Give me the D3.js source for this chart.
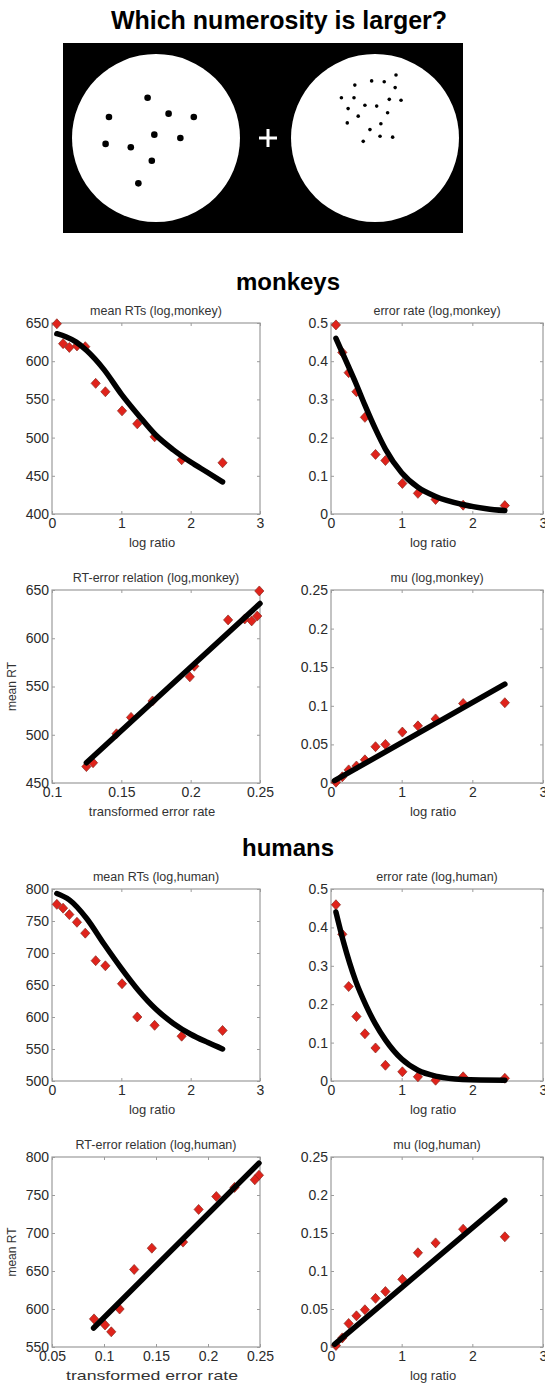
<!DOCTYPE html>
<html>
<head>
<meta charset="utf-8">
<script src="https://cdn.jsdelivr.net/npm/d3@7"></script>
<style>
  body { margin: 0; background: #fff; }
  svg text { font-family: "Liberation Sans", Arial, Helvetica, sans-serif; }
</style>
</head>
<body>
<script>
(function() {

    const width = 545;
    const height = 1383;

    // ---- data ----
    // log ratio of the two numerosities (same for every log-ratio panel)
    const logRatio = [0.07, 0.16, 0.25, 0.36, 0.48, 0.63, 0.77, 1.01, 1.23, 1.48, 1.87, 2.46];

    // monkeys
    const monkeyRT  = [649, 623, 618, 620, 619, 571, 560, 535, 518, 501, 471, 467];
    const monkeyErr = [0.495, 0.423, 0.37, 0.32, 0.253, 0.156, 0.14, 0.08, 0.054, 0.038, 0.023, 0.022];
    const monkeyTE  = [0.2495, 0.248, 0.244, 0.239, 0.227, 0.2026, 0.1994, 0.1725, 0.157, 0.1465, 0.1296, 0.1248];
    const monkeyMu  = [0.001, 0.008, 0.017, 0.022, 0.030, 0.047, 0.050, 0.066, 0.074, 0.083, 0.103, 0.104];

    const monkeyRTFitX  = [0.07, 0.2, 0.35, 0.5, 0.75, 1.0, 1.25, 1.5, 1.75, 2.0, 2.25, 2.46];
    const monkeyRTFitY  = [636, 632, 625, 614, 589, 557, 529, 503, 484, 468, 454, 442];
    const monkeyErrFitX = [0.07, 0.25, 0.35, 0.48, 0.63, 0.77, 1.0, 1.23, 1.48, 1.86, 2.2, 2.46];
    const monkeyErrFitY = [0.46, 0.385, 0.343, 0.285, 0.222, 0.17, 0.108, 0.07, 0.046, 0.025, 0.014, 0.009];
    const monkeyTEFitX  = [0.1248, 0.25];
    const monkeyTEFitY  = [471, 636];
    const monkeyMuFitX  = [0.05, 2.46];
    const monkeyMuFitY  = [0.003, 0.128];

    // humans
    const humanRT  = [776, 770, 760, 748, 731, 688, 680, 652, 600, 587, 570, 579];
    const humanErr = [0.459, 0.382, 0.246, 0.168, 0.123, 0.086, 0.041, 0.024, 0.011, 0.002, 0.011, 0.007];
    const humanTE  = [0.249, 0.245, 0.2255, 0.208, 0.191, 0.176, 0.146, 0.129, 0.115, 0.0904, 0.107, 0.101];
    const humanMu  = [0.002, 0.012, 0.031, 0.041, 0.049, 0.064, 0.073, 0.089, 0.124, 0.137, 0.155, 0.145];

    const humanRTFitX  = [0.07, 0.25, 0.5, 0.75, 1.0, 1.25, 1.5, 1.75, 2.0, 2.25, 2.46];
    const humanRTFitY  = [793, 783, 754, 714, 676, 641, 612, 590, 573, 560, 550];
    const humanErrFitX = [0.07, 0.18, 0.35, 0.5, 0.63, 0.77, 1.0, 1.23, 1.5, 1.86, 2.46];
    const humanErrFitY = [0.44, 0.36, 0.26, 0.195, 0.148, 0.107, 0.057, 0.028, 0.012, 0.004, 0.002];
    const humanTEFitX  = [0.09, 0.249];
    const humanTEFitY  = [575, 792];
    const humanMuFitX  = [0.05, 2.46];
    const humanMuFitY  = [0.0035, 0.193];

    // tick values
    const ratioTicks      = [0, 1, 2, 3];
    const monkeyRTTicks   = [400, 450, 500, 550, 600, 650];
    const humanRTTicks    = [500, 550, 600, 650, 700, 750, 800];
    const errTicks        = [0, 0.1, 0.2, 0.3, 0.4, 0.5];
    const muTicks         = [0, 0.05, 0.1, 0.15, 0.2, 0.25];
    const monkeyTETicks   = [0.1, 0.15, 0.2, 0.25];
    const monkeyTERTTicks = [450, 500, 550, 600, 650];
    const humanTETicks    = [0.05, 0.1, 0.15, 0.2, 0.25];
    const humanTERTTicks  = [550, 600, 650, 700, 750, 800];

    // stimulus dots, in units of the disc radius (centre = 0,0)
    const fewDotsX  = [-0.10, -0.56, 0.15, 0.45, -0.02, 0.29, -0.60, -0.30, -0.05, -0.21];
    const fewDotsY  = [-0.48, -0.25, -0.29, -0.25, -0.04, 0.00, 0.07, 0.11, 0.27, 0.54];
    const manyDotsX = [0.25, -0.04, 0.11, -0.24, 0.24, -0.40, -0.25, 0.17, 0.31, -0.12,
                       0.02, -0.32, 0.15, -0.20, -0.33, 0.07, -0.06, 0.06, 0.21, -0.14];
    const manyDotsY = [-0.75, -0.68, -0.67, -0.63, -0.60, -0.48, -0.48, -0.46, -0.45, -0.39,
                       -0.38, -0.35, -0.30, -0.26, -0.18, -0.17, -0.10, -0.02, -0.01, 0.04];

    const svg = d3.select("body").append("svg")
        .attr("width", width)
        .attr("height", height);

    svg.append("rect").attr("width", width).attr("height", height).attr("fill", "#fff");

    // ---- title + stimulus picture ----
    svg.append("text")
        .attr("x", 279).attr("y", 29)
        .attr("text-anchor", "middle")
        .style("font-size", "25px").style("font-weight", "bold")
        .text("Which numerosity is larger?");

    svg.append("rect")
        .attr("x", 63).attr("y", 43)
        .attr("width", 400).attr("height", 190)
        .attr("fill", "#000");

    function drawDisc(cx, cy, r, xs, ys, dotR) {
        let sx = d3.scaleLinear().domain([-1, 1]).range([cx - r, cx + r]);
        let sy = d3.scaleLinear().domain([-1, 1]).range([cy - r, cy + r]);
        svg.append("circle").attr("cx", cx).attr("cy", cy).attr("r", r).attr("fill", "#fff");
        svg.append("g").selectAll("circle")
            .data(xs)
            .enter()
            .append("circle")
            .attr("cx", d => sx(d))
            .attr("cy", (d, i) => sy(ys[i]))
            .attr("r", dotR)
            .attr("fill", "#000");
    }
    drawDisc(156, 138, 84, fewDotsX, fewDotsY, 3.3);
    drawDisc(375, 138, 84, manyDotsX, manyDotsY, 1.8);

    // fixation cross
    svg.append("path")
        .attr("d", "M259,138H277M268,129V147")
        .attr("stroke", "#fff").attr("stroke-width", 3);

    // ---- group headings ----
    svg.append("text").attr("x", 288).attr("y", 290)
        .attr("text-anchor", "middle")
        .style("font-size", "24px").style("font-weight", "bold")
        .text("monkeys");
    svg.append("text").attr("x", 288).attr("y", 856)
        .attr("text-anchor", "middle")
        .style("font-size", "24px").style("font-weight", "bold")
        .text("humans");

    const fmt = d3.format("~g");

    function diamond(x, y) {
        return "M" + x + "," + (y - 5) + "L" + (x + 4.6) + "," + y +
               "L" + x + "," + (y + 5) + "L" + (x - 4.6) + "," + y + "Z";
    }

    function drawPanel(p) {
        let x = d3.scaleLinear().domain(p.xDomain).range([p.left, p.right]);
        let y = d3.scaleLinear().domain(p.yDomain).range([p.bottom, p.top]);
        let g = svg.append("g");

        g.append("rect")
            .attr("x", p.left).attr("y", p.top)
            .attr("width", p.right - p.left).attr("height", p.bottom - p.top)
            .attr("fill", "#fff")
            .attr("stroke", "#9c9c9c").attr("stroke-width", 1.2);

        // inward ticks on all four sides, labels on bottom and left only
        g.append("g")
            .attr("transform", "translate(0," + p.bottom + ")")
            .call(d3.axisBottom(x).tickValues(p.xTicks).tickSizeInner(-3).tickSizeOuter(0)
                .tickPadding(4).tickFormat(fmt));
        g.append("g")
            .attr("transform", "translate(" + p.left + ",0)")
            .call(d3.axisLeft(y).tickValues(p.yTicks).tickSizeInner(-3).tickSizeOuter(0)
                .tickPadding(3).tickFormat(fmt));
        g.append("g")
            .attr("transform", "translate(0," + p.top + ")")
            .call(d3.axisTop(x).tickValues(p.xTicks).tickSizeInner(-3).tickSizeOuter(0).tickFormat(""));
        g.append("g")
            .attr("transform", "translate(" + p.right + ",0)")
            .call(d3.axisRight(y).tickValues(p.yTicks).tickSizeInner(-3).tickSizeOuter(0).tickFormat(""));

        g.selectAll(".domain").remove();
        g.selectAll(".tick line").attr("stroke", "#9c9c9c");
        g.selectAll(".tick text")
            .attr("fill", "#2a2a2a")
            .style("font-family", "'Liberation Sans', Arial, sans-serif")
            .style("font-size", "14px");

        // title
        g.append("text")
            .attr("x", (p.left + p.right) / 2).attr("y", p.top - 8)
            .attr("text-anchor", "middle")
            .attr("fill", "#333")
            .style("font-size", "12.5px")
            .text(p.title);

        // x label
        let xl = g.append("text")
            .attr("x", (p.left + p.right) / 2 - 4).attr("y", p.bottom + 33)
            .attr("text-anchor", "middle")
            .attr("fill", "#333")
            .style("font-size", "13px")
            .text(p.xLabel);
        if (p.xLabelLength) {
            xl.attr("textLength", p.xLabelLength).attr("lengthAdjust", "spacingAndGlyphs");
        }

        if (p.yLabel) {
            g.append("text")
                .attr("transform", "translate(16," + ((p.top + p.bottom) / 2) + ") rotate(-90)")
                .attr("text-anchor", "middle")
                .attr("fill", "#333")
                .style("font-size", "12px")
                .text(p.yLabel);
        }

        // data points
        g.append("g").selectAll("path")
            .data(p.xs)
            .enter()
            .append("path")
            .attr("d", (d, i) => diamond(x(d), y(p.ys[i])))
            .attr("fill", "#e0231b")
            .attr("stroke", "#8a2a20")
            .attr("stroke-width", 0.7);

        // model fit
        let line = d3.line()
            .x(d => x(d[0]))
            .y(d => y(d[1]))
            .curve(d3.curveMonotoneX);
        g.append("path")
            .datum(p.fitX.map((d, i) => [d, p.fitY[i]]))
            .attr("d", line)
            .attr("fill", "none")
            .attr("stroke", "#000")
            .attr("stroke-width", 5.5)
            .attr("stroke-linecap", "round")
            .attr("stroke-linejoin", "round");
    }

    const colL = [52, 260];
    const colR = [331, 543];

    // monkeys
    drawPanel({ left: colL[0], right: colL[1], top: 323, bottom: 514,
        xDomain: [0, 3], yDomain: [400, 650], xTicks: ratioTicks, yTicks: monkeyRTTicks,
        title: "mean RTs (log,monkey)", xLabel: "log ratio",
        xs: logRatio, ys: monkeyRT, fitX: monkeyRTFitX, fitY: monkeyRTFitY });
    drawPanel({ left: colR[0], right: colR[1], top: 323, bottom: 514,
        xDomain: [0, 3], yDomain: [0, 0.5], xTicks: ratioTicks, yTicks: errTicks,
        title: "error rate (log,monkey)", xLabel: "log ratio",
        xs: logRatio, ys: monkeyErr, fitX: monkeyErrFitX, fitY: monkeyErrFitY });
    drawPanel({ left: colL[0], right: colL[1], top: 590, bottom: 783,
        xDomain: [0.1, 0.25], yDomain: [450, 650], xTicks: monkeyTETicks, yTicks: monkeyTERTTicks,
        title: "RT-error relation (log,monkey)", xLabel: "transformed error rate", yLabel: "mean RT",
        xs: monkeyTE, ys: monkeyRT, fitX: monkeyTEFitX, fitY: monkeyTEFitY });
    drawPanel({ left: colR[0], right: colR[1], top: 590, bottom: 783,
        xDomain: [0, 3], yDomain: [0, 0.25], xTicks: ratioTicks, yTicks: muTicks,
        title: "mu (log,monkey)", xLabel: "log ratio",
        xs: logRatio, ys: monkeyMu, fitX: monkeyMuFitX, fitY: monkeyMuFitY });

    // humans
    drawPanel({ left: colL[0], right: colL[1], top: 889, bottom: 1081,
        xDomain: [0, 3], yDomain: [500, 800], xTicks: ratioTicks, yTicks: humanRTTicks,
        title: "mean RTs (log,human)", xLabel: "log ratio",
        xs: logRatio, ys: humanRT, fitX: humanRTFitX, fitY: humanRTFitY });
    drawPanel({ left: colR[0], right: colR[1], top: 889, bottom: 1081,
        xDomain: [0, 3], yDomain: [0, 0.5], xTicks: ratioTicks, yTicks: errTicks,
        title: "error rate (log,human)", xLabel: "log ratio",
        xs: logRatio, ys: humanErr, fitX: humanErrFitX, fitY: humanErrFitY });
    drawPanel({ left: colL[0], right: colL[1], top: 1157, bottom: 1347,
        xDomain: [0.05, 0.25], yDomain: [550, 800], xTicks: humanTETicks, yTicks: humanTERTTicks,
        title: "RT-error relation (log,human)", xLabel: "transformed error rate", yLabel: "mean RT",
        xLabelLength: 172,
        xs: humanTE, ys: humanRT, fitX: humanTEFitX, fitY: humanTEFitY });
    drawPanel({ left: colR[0], right: colR[1], top: 1157, bottom: 1347,
        xDomain: [0, 3], yDomain: [0, 0.25], xTicks: ratioTicks, yTicks: muTicks,
        title: "mu (log,human)", xLabel: "log ratio",
        xs: logRatio, ys: humanMu, fitX: humanMuFitX, fitY: humanMuFitY });

})();
</script>
</body>
</html>
